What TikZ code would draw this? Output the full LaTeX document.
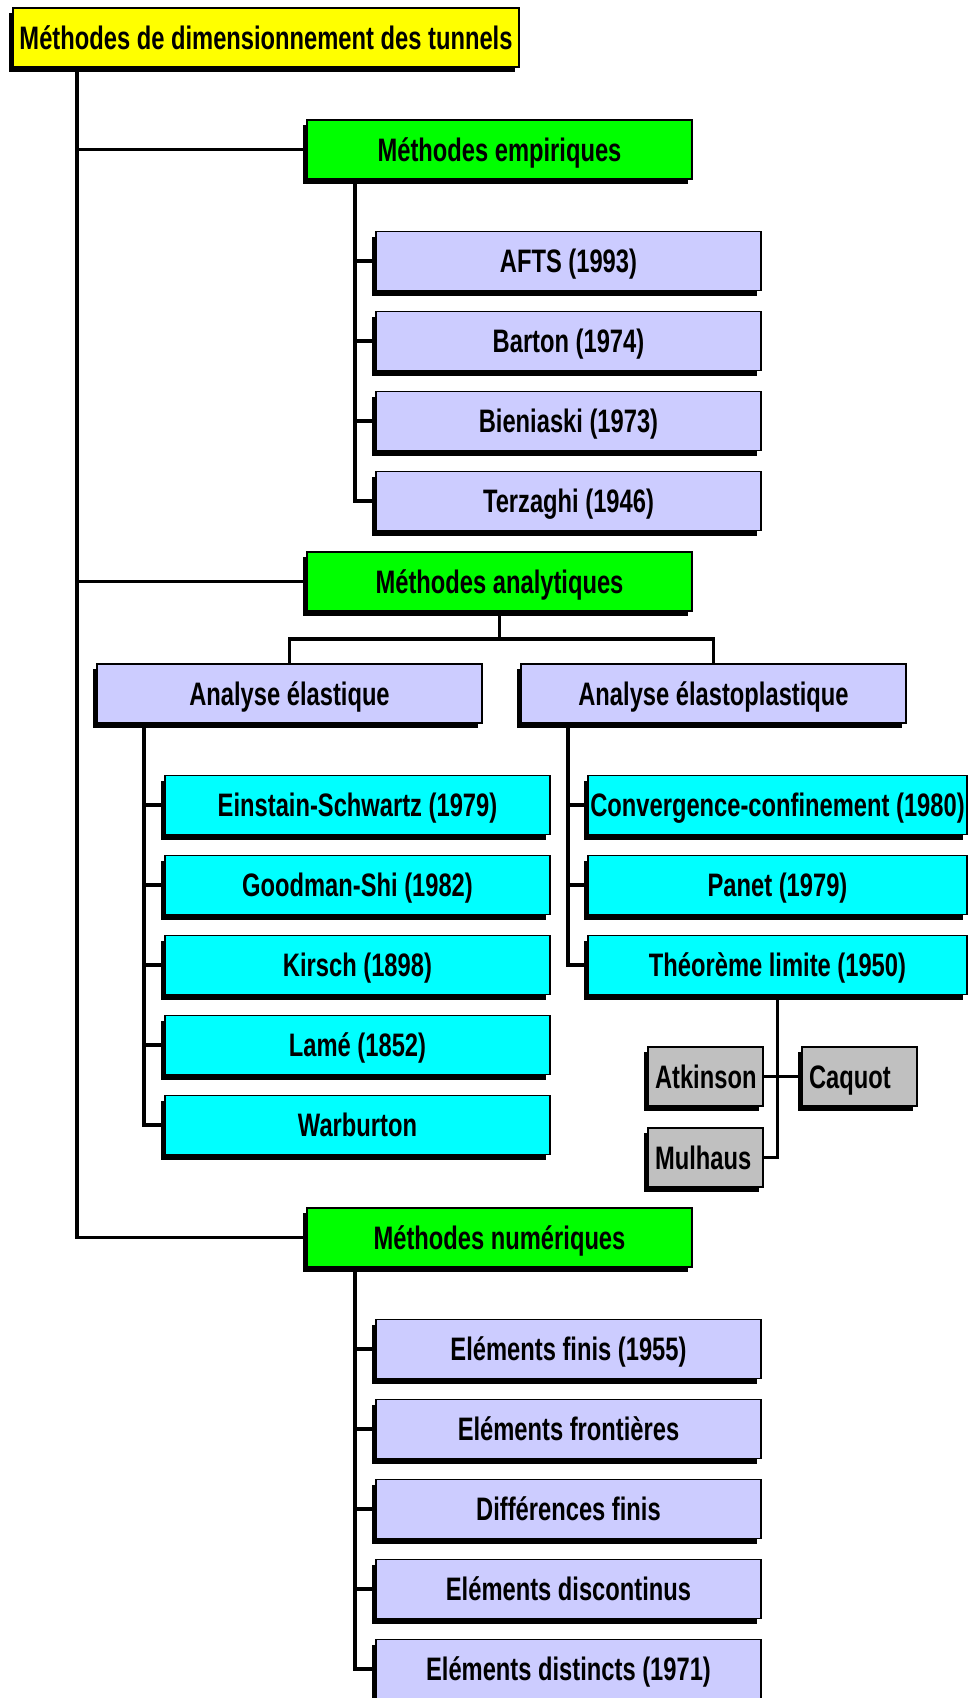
\documentclass[tikz,border=0pt]{standalone}
\usepackage{fontspec}
\setmainfont{Liberation Sans}[FakeStretch=0.73]
\usepackage{xcolor}
\usepackage{tikz}
\usetikzlibrary{positioning, shadows}
\definecolor{TitleYellow}{HTML}{FFFF00}
\definecolor{MethGreen}{HTML}{00FF00}
\definecolor{SubLilac}{HTML}{CCCCFF}
\definecolor{LeafCyan}{HTML}{00FFFF}
\definecolor{AuthGray}{HTML}{C0C0C0}

\begin{document}
\begin{tikzpicture}[x=1pt, y=-1pt,
            box/.style={draw=black, line width=1.6pt, outer sep=0pt, inner sep=0pt, minimum height=59pt, text height=23pt, text depth=0pt, align=center, font=\fontsize{32.5}{38}\selectfont\bfseries, drop shadow={shadow xshift=-4pt, shadow yshift=-5pt, fill=black, opacity=1}},
            titlebox/.style={box, fill=TitleYellow, minimum width=506pt},
            methbox/.style={box, fill=MethGreen, minimum width=385pt},
            lilacbox/.style={box, fill=SubLilac, minimum width=385pt},
            cyanbox/.style={box, fill=LeafCyan, minimum width=385pt},
            authbox/.style={box, fill=AuthGray, text width=101pt, inner xsep=7pt, align=left},
            link/.style={line width=3.2pt, black}
        ]
            \useasboundingbox (0,0) rectangle (968,1698);

            \node[titlebox] (title) at (266,37.5) {Méthodes de dimensionnement des tunnels};

            % methodes empiriques
            \node[methbox] (empir) at (499.5,149.5) {Méthodes empiriques};
            \node[lilacbox] (afts) at (568.5,261) {AFTS (1993)};
            \node[lilacbox, below=21pt of afts] (barton) {Barton (1974)};
            \node[lilacbox, below=21pt of barton] (bienia) {Bieniaski (1973)};
            \node[lilacbox, below=21pt of bienia] (terza) {Terzaghi (1946)};

            % methodes analytiques
            \node[methbox] (analy) at (499.5,581.5) {Méthodes analytiques};
            \node[lilacbox] (elas) at (289.5,693.5) {Analyse élastique};
            \node[lilacbox] (plast) at (713.5,693.5) {Analyse élastoplastique};

            \node[cyanbox] (einst) at (357.5,805) {Einstain-Schwartz (1979)};
            \node[cyanbox, below=21pt of einst] (goodm) {Goodman-Shi (1982)};
            \node[cyanbox, below=21pt of goodm] (kirsch) {Kirsch (1898)};
            \node[cyanbox, below=21pt of kirsch] (lame) {Lamé (1852)};
            \node[cyanbox, below=21pt of lame] (warbu) {Warburton};

            \node[cyanbox, minimum width=379pt] (conv) at (777.5,805) {Convergence-confinement (1980)};
            \node[cyanbox, minimum width=379pt, below=21pt of conv] (panet) {Panet (1979)};
            \node[cyanbox, minimum width=379pt, below=21pt of panet] (theo) {Théorème limite (1950)};

            \node[authbox] (atkin) at (705.5,1076.5) {Atkinson};
            \node[authbox, right=39pt of atkin] (caquot) {Caquot};
            \node[authbox, below=22pt of atkin] (mulh) {Mulhaus};

            % methodes numeriques
            \node[methbox] (numer) at (499.5,1237.5) {Méthodes numériques};
            \node[lilacbox] (finis) at (568.5,1349) {Eléments finis (1955)};
            \node[lilacbox, below=21pt of finis] (front) {Eléments frontières};
            \node[lilacbox, below=21pt of front] (diff) {Différences finis};
            \node[lilacbox, below=21pt of diff] (discon) {Eléments discontinus};
            \node[lilacbox, below=21pt of discon] (disti) {Eléments distincts (1971)};

            % tronc principal
            \coordinate (trunk) at ([xshift=64pt]title.south west);
            \draw[link] (trunk) |- (numer.west);
            \draw[link] (trunk |- empir.west) -- (empir.west);
            \draw[link] (trunk |- analy.west) -- (analy.west);

            \coordinate (empline) at ([xshift=48pt]empir.south west);
            \draw[link] (empline) |- (terza.west);
            \foreach \n in {afts, barton, bienia}
                \draw[link] (empline |- \n.west) -- (\n.west);

            \draw[link] (analy.south) -- ++(0,28) coordinate (split);
            \draw[link] (elas.north) |- (split) -| (plast.north);

            \coordinate (elasline) at ([xshift=47pt]elas.south west);
            \draw[link] (elasline) |- (warbu.west);
            \foreach \n in {einst, goodm, kirsch, lame}
                \draw[link] (elasline |- \n.west) -- (\n.west);

            \coordinate (plastline) at ([xshift=47pt]plast.south west);
            \draw[link] (plastline) |- (theo.west);
            \foreach \n in {conv, panet}
                \draw[link] (plastline |- \n.west) -- (\n.west);

            \draw[link] (theo.south) |- (mulh.east);
            \draw[link] (atkin.east) -- (caquot.west);

            \coordinate (numline) at ([xshift=48pt]numer.south west);
            \draw[link] (numline) |- (disti.west);
            \foreach \n in {finis, front, diff, discon}
                \draw[link] (numline |- \n.west) -- (\n.west);

        \end{tikzpicture}
\end{document}
